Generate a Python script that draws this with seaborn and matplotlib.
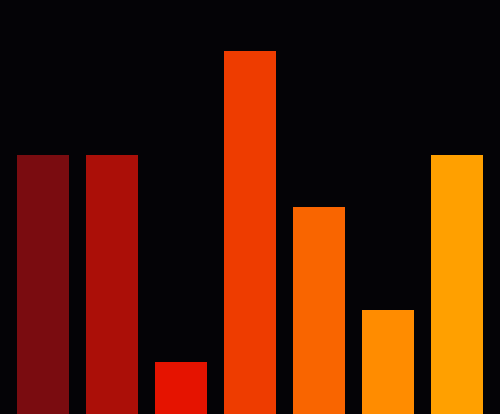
import matplotlib
matplotlib.use("Agg")
import matplotlib.pyplot as plt
import pandas as pd
import seaborn as sns

# data
labels = ["a", "b", "c", "d", "e", "f", "g"]
values = [5, 5, 1, 7, 4, 2, 5]
colors = ["#7a0c10", "#ab0f08", "#e51300", "#ee3c00", "#f96500", "#ff8c00", "#ffa000"]

df = pd.DataFrame({"label": labels, "value": values})

sns.set_style("dark")
fig = plt.figure(figsize=(5.0, 4.145), dpi=100, facecolor="#040306")
ax = fig.add_axes([0, 0, 1, 1])
ax.set_facecolor("#040306")

sns.barplot(data=df, x="label", y="value", hue="label", palette=colors,
            width=0.75, legend=False, ax=ax, saturation=1, linewidth=0)

ax.set_xlim(-0.623, 6.623)
ax.set_ylim(0, 8)
ax.axis("off")

fig.savefig("out.png", dpi=100, facecolor=fig.get_facecolor())
